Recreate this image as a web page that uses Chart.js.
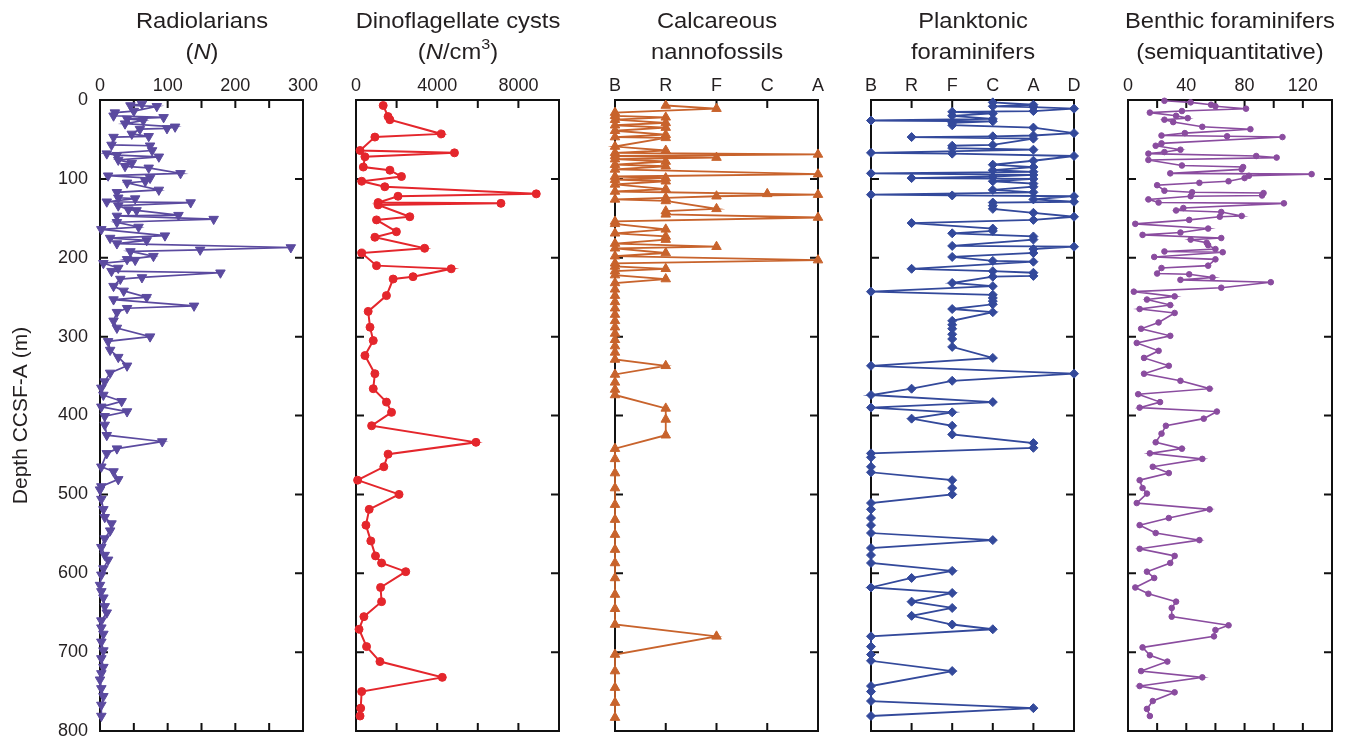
<!DOCTYPE html>
<html>
<head>
<meta charset="utf-8">
<title>Microfossil abundance vs depth</title>
<script src="https://cdn.jsdelivr.net/npm/chart.js@4.4.1/dist/chart.umd.min.js"></script>
<style>
  html, body { margin: 0; padding: 0; background: #fff; }
  body { width: 1345px; height: 741px; position: relative; overflow: hidden;
         font-family: "Liberation Sans", Arial, Helvetica, sans-serif; color: #231f20; }
  canvas { position: absolute; top: 0; }
  .title { position: absolute; top: 5px; width: 280px; text-align: center;
           font-size: 22px; line-height: 31px; transform: scaleX(1.08); white-space: nowrap; }
  .title sup { font-size: 0.68em; line-height: 0; position: relative; top: -0.1em; }
</style>
</head>
<body>
<div id="panels"></div>
<script>
// Depth (m CCSF-A) and value for each microfossil group
const radDepth = [5,7,8,14,16,20,22,24,26,30, 34,36,37,43,46,47,57,58,64,68,
  70,72,76,80,84,86,93,96,99,103, 105,114,117,124,125,129,130,134,139,140,
  146,147,151,155,161,164,172,175,178,182, 187,190,192,198,202,203,207,213,217,219,
  225,227,236,242,250,253,261,264,269,280, 289,300,306,317,326,337,346,357,365,374,
  382,389,395,401,412,425,433,442,448,465, 471,481,490,494,506,519,529,537,546,556,
  567,577,583,594,602,615,623,631,642,650, 660,669,677,687,698,708,719,727,735,746,
  756,767,781];
const radCount = [62,45,84,50,22,20,94,40,64,37, 111,99,59,47,72,20,17,74,77,10,
  25,87,27,47,37,72,119,12,74,67, 40,87,25,27,52,10,134,27,42,54,
  116,25,168,25,57,2,96,15,69,25, 282,148,45,79,40,52,5,27,17,178,
  62,30,20,35,69,20,139,40,25,20, 25,74,12,15,27,40,15,7,2,5,
  32,2,40,7,7,10,92,25,10,2, 20,27,2,0,2,5,7,17,15,7,
  2,7,12,5,2,0,2,5,7,10, 2,2,5,2,5,2,5,2,0,2,
  5,2,2];

const dinoDepth = [7,21,25,43,47,64,67,72,85,89, 97,103,110,119,122,130,131,133,148,152,
  167,174,188,194,210,214,224,227,248,268, 288,305,324,347,366,383,396,413,434,449,
  465,482,500,519,539,559,578,587,598,618, 636,655,671,693,712,732,750,771,781];
const dinoConc = [1340,1580,1670,4200,930,200,4850,440,360,1670, 2240,280,1420,8880,2070,1090,7140,1090,2650,1010,
  1990,930,3380,280,1010,4690,2810,1830,1500,600, 690,850,440,930,850,1500,1750,770,5910,1580,
  1370,80,2120,650,490,730,960,1260,2450,1210, 1260,390,150,520,1180,4250,280,230,200];

const nannoScale = ['B','R','F','C','A'];
const nannoDepth = [7,11,16,20,22,25,29,32,35,39, 44,47,48,59,64,67,69,71,73,75,
  78,82,84,88,94,97,99,101,103,107, 113,116,119,120,122,124,126,128,138,141,
  145,149,154,157,164,169,173,177,182,186, 188,194,198,203,207,211,214,217,222,227,
  232,240,248,256,264,272,280,288,296,304, 312,320,329,337,348,358,367,374,391,405,
  425,442,455,473,492,513,532,551,570,587, 606,627,645,665,680,703,724,745,764,783];
const nannoLevel = [
  'R','F','B','B','R','B','R','B','R','B',
  'R','B','R','B','R','B','A','B','F','B',
  'R','B','R','B','A','B','R','B','R','B',
  'R','B','C','A','F','R','B','R','F','R',
  'R','A','B','B','R','B','R','R','B','F',
  'B','R','B','A','B','B','R','B','B','R',
  'B','B','B','B','B','B','B','B','B','B',
  'B','B','B','R','B','B','B','B','R','R',
  'R','B','B','B','B','B','B','B','B','B',
  'B','B','B','B','F','B','B','B','B','B'];

const plankScale = ['B','R','F','C','A','D'];
const plankDepth = [3,6,8,9,11,14,15,17,20,24, 26,27,29,32,35,42,45,46,47,49,
  57,58,61,63,67,68,71,77,82,85, 89,91,93,95,97,99,100,103,106,110,
  114,117,120,121,122,126,129,130,134,138, 143,148,152,156,163,166,169,173,177,185,
  186,189,194,199,204,205,214,217,219,223, 224,232,236,243,247,251,255,259,265,269,
  280,285,290,297,303,313,327,337,347,356, 366,374,383,390,396,404,413,424,435,441,
  448,453,465,472,482,492,500,511,519,530, 539,549,558,568,577,587,597,606,618,625,
  636,644,654,665,671,680,693,703,711,724, 743,750,762,771,781];
const plankLevel = [
  'C','A','C','A','D','A','F','C','F','C',
  'B','C','F','F','A','D','A','C','R','A',
  'C','F','F','A','B','F','D','A','C','A',
  'C','A','B','A','C','R','A','C','A','A',
  'C','A','B','F','D','A','D','C','C','C',
  'A','D','A','R','C','C','F','A','A','F',
  'D','A','A','F','C','A','R','C','A','A',
  'C','F','C','B','C','C','C','C','F','C',
  'F','F','F','F','F','F','C','B','D','F',
  'R','B','C','B','F','R','F','F','A','A',
  'B','B','B','B','F','F','F','B','B','B',
  'B','B','C','B','B','B','F','R','B','F',
  'R','F','R','F','C','B','B','B','B','F',
  'B','B','B','A','B'];

const benthDepth = [1,3,6,8,11,14,16,20,23,25, 28,34,37,42,45,46,47,55,58,63,
  66,68,71,73,76,83,85,88,93,94, 96,99,103,105,108,115,117,118,121,122,
  126,130,131,137,140,142,147,148,152,157, 163,168,171,175,177,181,184,189,192,193,
  199,202,210,213,220,221,225,228,231,238, 243,249,253,260,265,270,282,290,299,308,
  318,327,337,347,356,366,373,383,390,395, 404,413,423,434,442,448,455,465,473,482,
  492,499,511,519,530,539,549,558,569,578, 587,598,606,618,626,636,644,655,666,672,
  680,694,704,712,724,732,743,751,762,772, 781];
const benthCount = [25,43,57,60,81,37,15,33,41,25, 31,51,84,39,23,68,106,23,19,36,
  25,14,88,102,14,37,79,78,29,126, 83,80,69,49,20,25,44,93,92,43,
  14,21,107,38,33,64,78,63,42,5, 55,36,10,64,43,54,55,60,25,65,
  18,60,55,23,20,42,58,36,98,64, 4,32,13,29,8,32,21,9,29,6,
  21,11,28,11,36,56,7,22,8,61, 52,26,23,19,37,15,51,17,28,8,
  10,13,6,56,28,8,19,49,8,32, 29,13,18,5,14,33,30,30,69,60,
  59,10,15,27,9,51,8,32,17,13, 15];

const depthTicks = { min: 0, max: 800, step: 100 };

const INK = '#231f20';
const FONT = '"Liberation Sans", Arial, Helvetica, sans-serif';

// frame box plus inward tick marks on all four sides
const framePlugin = {
  id: 'frame',
  beforeDatasetsDraw(chart) {
    const { ctx, chartArea: a, scales: { x, y } } = chart;
    const len = 8;
    ctx.save();
    ctx.strokeStyle = '#111';
    ctx.lineWidth = 2;
    ctx.strokeRect(a.left, a.top, a.right - a.left, a.bottom - a.top);
    ctx.beginPath();
    x.ticks.forEach(t => {
      const px = x.getPixelForValue(t.value);
      ctx.moveTo(px, a.top); ctx.lineTo(px, a.top + len);
      ctx.moveTo(px, a.bottom); ctx.lineTo(px, a.bottom - len);
    });
    y.ticks.forEach(t => {
      const py = y.getPixelForValue(t.value);
      ctx.moveTo(a.left, py); ctx.lineTo(a.left + len, py);
      ctx.moveTo(a.right, py); ctx.lineTo(a.right - len, py);
    });
    ctx.stroke();
    ctx.restore();
  }
};

const panels = [
  { title: 'Radiolarians<br>(<i>N</i>)', left: 100, right: 303, depth: radDepth, values: radCount,
    min: 0, max: 300, step: 50, labelEvery: 100, color: '#5b4a9f',
    point: { pointStyle: 'triangle', rotation: 180, radius: 5.5 }, lineWidth: 1.7, depthAxis: true },
  { title: 'Dinoflagellate cysts<br>(<i>N</i>/cm<sup>3</sup>)', left: 356, right: 559, depth: dinoDepth, values: dinoConc,
    min: 0, max: 10000, step: 2000, labelEvery: 4000, labelMax: 8000, color: '#e4262c',
    point: { pointStyle: 'circle', radius: 4 }, lineWidth: 2 },
  { title: 'Calcareous<br>nannofossils', left: 615, right: 818, depth: nannoDepth,
    values: nannoLevel.map(l => nannoScale.indexOf(l)), categories: nannoScale,
    min: 0, max: 4, step: 1, color: '#c8632c',
    point: { pointStyle: 'triangle', rotation: 0, radius: 5.5 }, lineWidth: 1.8 },
  { title: 'Planktonic<br>foraminifers', left: 871, right: 1074, depth: plankDepth,
    values: plankLevel.map(l => plankScale.indexOf(l)), categories: plankScale,
    min: 0, max: 5, step: 1, color: '#33499b',
    point: { pointStyle: 'rectRot', radius: 4.5 }, lineWidth: 1.8 },
  { title: 'Benthic foraminifers<br>(semiquantitative)', left: 1128, right: 1332, depth: benthDepth, values: benthCount,
    min: 0, max: 140, step: 20, labelEvery: 40, labelMax: 120, color: '#8a4c9f',
    point: { pointStyle: 'circle', radius: 2.8 }, lineWidth: 1.6 },
];

const holder = document.getElementById('panels');

panels.forEach((p, i) => {
  const padL = p.depthAxis ? p.left : 40;
  const padR = 30;
  const canvas = document.createElement('canvas');
  const w = (p.right - p.left) + padL + padR;
  canvas.width = w; canvas.height = 741;
  canvas.style.left = (p.left - padL) + 'px';
  canvas.style.width = w + 'px'; canvas.style.height = '741px';
  holder.appendChild(canvas);

  const head = document.createElement('div');
  head.className = 'title';
  head.innerHTML = p.title;
  head.style.left = ((p.left + p.right) / 2 - 140) + 'px';
  holder.appendChild(head);

  const xLabel = v => {
    if (p.categories) return p.categories[Math.round(v)] || '';
    if (v % p.labelEvery !== 0) return '';
    if (p.labelMax !== undefined && v > p.labelMax) return '';
    return String(v);
  };

  new Chart(canvas.getContext('2d'), {
    type: 'scatter',
    data: {
      datasets: [{
        data: p.depth.map((d, k) => ({ x: p.values[k], y: d })),
        showLine: true,
        borderColor: p.color,
        borderWidth: p.lineWidth,
        backgroundColor: p.color,
        pointBackgroundColor: p.color,
        pointBorderColor: p.color,
        pointBorderWidth: 1,
        pointStyle: p.point.pointStyle,
        pointRotation: p.point.rotation || 0,
        pointRadius: p.point.radius,
        pointHoverRadius: p.point.radius,
        clip: false,
      }],
    },
    options: {
      responsive: false, animation: false, devicePixelRatio: 1,
      layout: { padding: { left: p.depthAxis ? 0 : padL, right: padR, top: 0, bottom: 10 } },
      plugins: { legend: { display: false }, tooltip: { enabled: false } },
      scales: {
        x: {
          type: 'linear', position: 'top', min: p.min, max: p.max,
          afterFit: s => { s.height = 100; s.paddingLeft = 0; s.paddingRight = 0; },
          grid: { display: false, drawTicks: false },
          border: { display: false },
          ticks: { stepSize: p.step, autoSkip: false, maxRotation: 0, padding: 3,
                   color: INK, font: { family: FONT, size: 18 }, callback: xLabel },
        },
        y: {
          type: 'linear', reverse: true, min: depthTicks.min, max: depthTicks.max,
          afterFit: s => { s.width = p.depthAxis ? p.left : 0; s.paddingTop = 0; s.paddingBottom = 0; },
          grid: { display: false, drawTicks: false },
          border: { display: false },
          ticks: { display: !!p.depthAxis, stepSize: depthTicks.step, padding: 12,
                   color: INK, font: { family: FONT, size: 18 } },
          title: { display: !!p.depthAxis, text: 'Depth CCSF-A (m)', color: INK,
                   font: { family: FONT, size: 21 }, padding: { top: 9, bottom: 0 } },
        },
      },
    },
    plugins: [framePlugin],
  });
});
</script>
</body>
</html>
